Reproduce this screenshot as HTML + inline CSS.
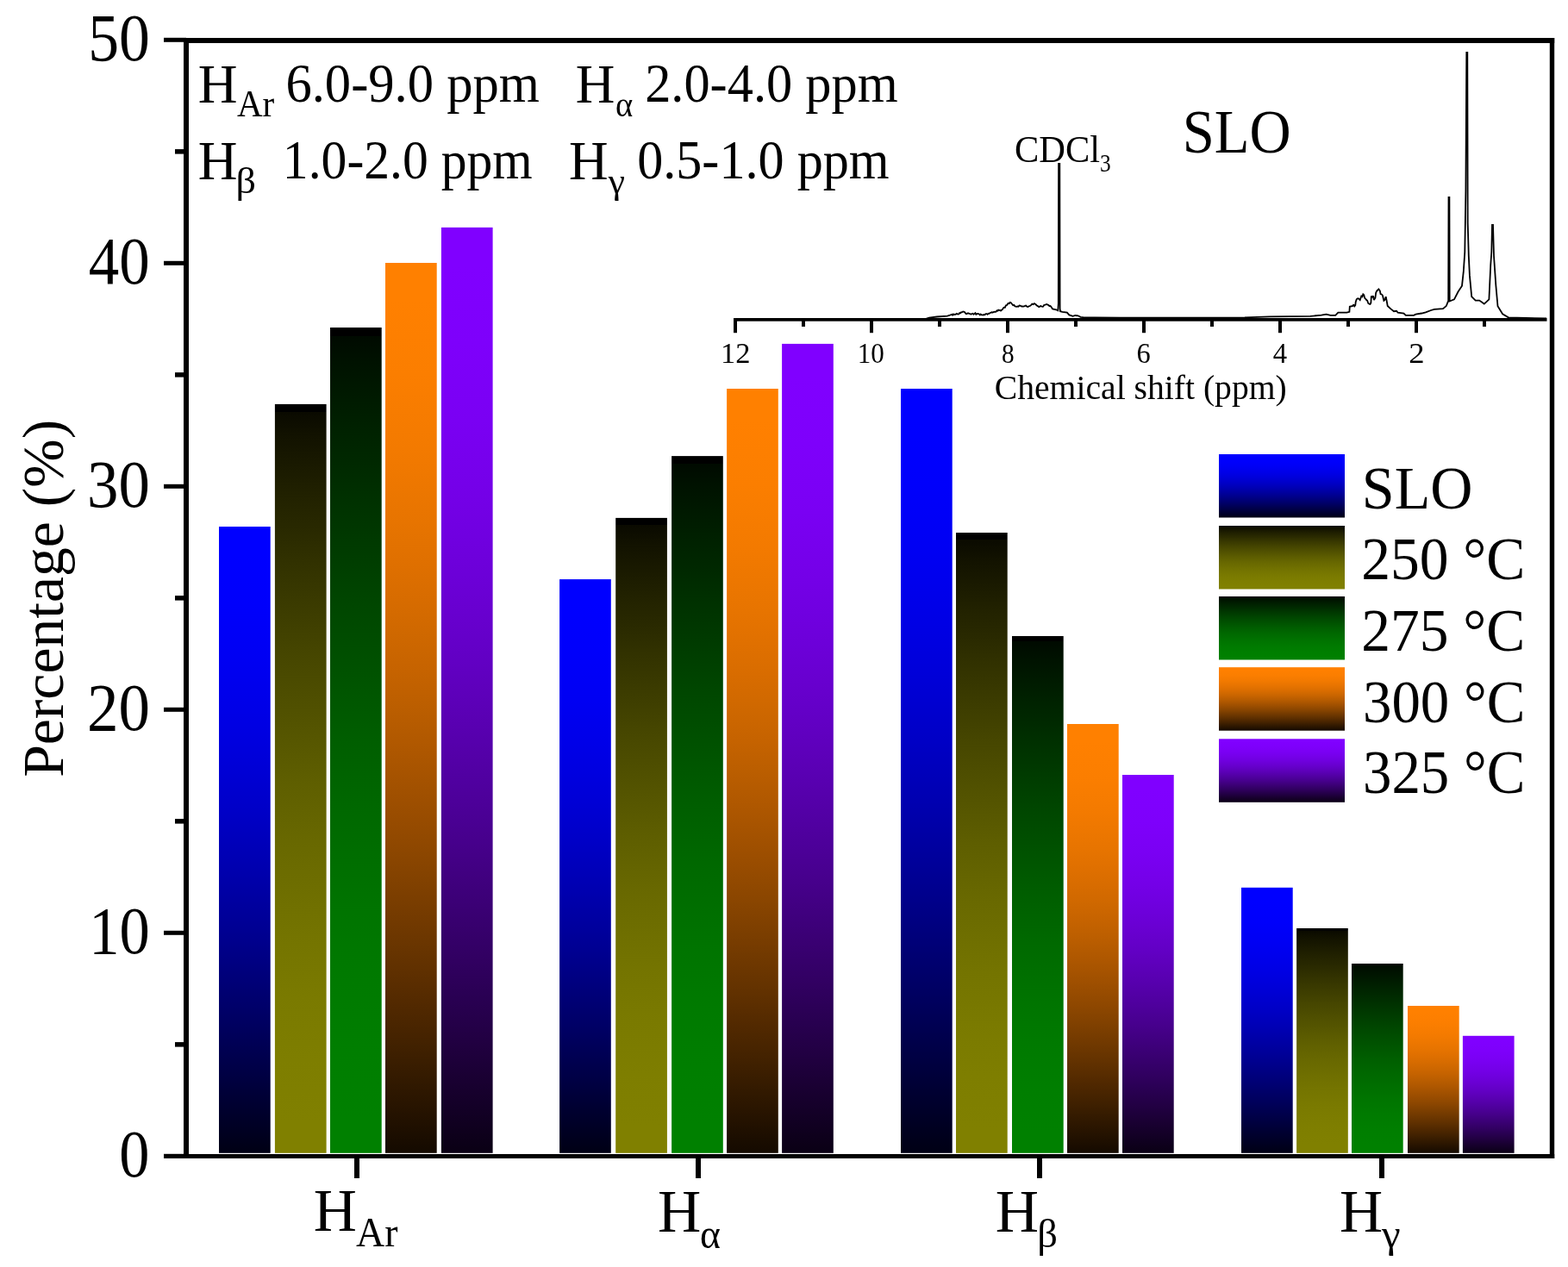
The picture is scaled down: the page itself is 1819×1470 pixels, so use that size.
<!DOCTYPE html><html><head><meta charset="utf-8"><style>html,body{margin:0;padding:0;background:#fff;}svg{display:block;}text{font-family:"Liberation Serif","Times New Roman",serif;fill:#000;}</style></head><body>
<svg width="1819" height="1470" viewBox="0 0 1819 1470">
<defs>
<linearGradient id="gS" x1="0" y1="0" x2="0" y2="1"><stop offset="0.0000" stop-color="#0000ff"/><stop offset="0.0417" stop-color="#0000ff"/><stop offset="0.0833" stop-color="#0000fd"/><stop offset="0.1250" stop-color="#0000fb"/><stop offset="0.1667" stop-color="#0000f7"/><stop offset="0.2083" stop-color="#0000f3"/><stop offset="0.2500" stop-color="#0000ed"/><stop offset="0.2917" stop-color="#0000e7"/><stop offset="0.3333" stop-color="#0000e0"/><stop offset="0.3750" stop-color="#0000d8"/><stop offset="0.4167" stop-color="#0000cf"/><stop offset="0.4583" stop-color="#0000c6"/><stop offset="0.5000" stop-color="#0000bb"/><stop offset="0.5417" stop-color="#0000b0"/><stop offset="0.5833" stop-color="#0000a4"/><stop offset="0.6250" stop-color="#000098"/><stop offset="0.6667" stop-color="#00008b"/><stop offset="0.7083" stop-color="#00007d"/><stop offset="0.7500" stop-color="#00006f"/><stop offset="0.7917" stop-color="#000061"/><stop offset="0.8333" stop-color="#000052"/><stop offset="0.8750" stop-color="#000043"/><stop offset="0.9167" stop-color="#000033"/><stop offset="0.9583" stop-color="#000024"/><stop offset="1.0000" stop-color="#000014"/></linearGradient>
<linearGradient id="g250" x1="0" y1="0" x2="0" y2="1"><stop offset="0" stop-color="#000000"/><stop offset="0.0105" stop-color="#000000"/><stop offset="0.0105" stop-color="#0a0a00"/><stop offset="0.0417" stop-color="#121200"/><stop offset="0.0833" stop-color="#1a1a00"/><stop offset="0.1250" stop-color="#222200"/><stop offset="0.1667" stop-color="#292900"/><stop offset="0.2083" stop-color="#313100"/><stop offset="0.2500" stop-color="#383800"/><stop offset="0.2917" stop-color="#3f3f00"/><stop offset="0.3333" stop-color="#464600"/><stop offset="0.3750" stop-color="#4c4c00"/><stop offset="0.4167" stop-color="#525200"/><stop offset="0.4583" stop-color="#585800"/><stop offset="0.5000" stop-color="#5e5e00"/><stop offset="0.5417" stop-color="#636300"/><stop offset="0.5833" stop-color="#686800"/><stop offset="0.6250" stop-color="#6c6c00"/><stop offset="0.6667" stop-color="#707000"/><stop offset="0.7083" stop-color="#747400"/><stop offset="0.7500" stop-color="#777700"/><stop offset="0.7917" stop-color="#7a7a00"/><stop offset="0.8333" stop-color="#7c7c00"/><stop offset="0.8750" stop-color="#7e7e00"/><stop offset="0.9167" stop-color="#7f7f00"/><stop offset="0.9583" stop-color="#808000"/><stop offset="1.0000" stop-color="#808000"/></linearGradient>
<linearGradient id="g275" x1="0" y1="0" x2="0" y2="1"><stop offset="0" stop-color="#000000"/><stop offset="0.0105" stop-color="#000000"/><stop offset="0.0105" stop-color="#000a00"/><stop offset="0.0417" stop-color="#001200"/><stop offset="0.0833" stop-color="#001a00"/><stop offset="0.1250" stop-color="#002200"/><stop offset="0.1667" stop-color="#002900"/><stop offset="0.2083" stop-color="#003100"/><stop offset="0.2500" stop-color="#003800"/><stop offset="0.2917" stop-color="#003f00"/><stop offset="0.3333" stop-color="#004600"/><stop offset="0.3750" stop-color="#004c00"/><stop offset="0.4167" stop-color="#005200"/><stop offset="0.4583" stop-color="#005800"/><stop offset="0.5000" stop-color="#005e00"/><stop offset="0.5417" stop-color="#006300"/><stop offset="0.5833" stop-color="#006800"/><stop offset="0.6250" stop-color="#006c00"/><stop offset="0.6667" stop-color="#007000"/><stop offset="0.7083" stop-color="#007400"/><stop offset="0.7500" stop-color="#007700"/><stop offset="0.7917" stop-color="#007a00"/><stop offset="0.8333" stop-color="#007c00"/><stop offset="0.8750" stop-color="#007e00"/><stop offset="0.9167" stop-color="#007f00"/><stop offset="0.9583" stop-color="#008000"/><stop offset="1.0000" stop-color="#008000"/></linearGradient>
<linearGradient id="g300" x1="0" y1="0" x2="0" y2="1"><stop offset="0.0000" stop-color="#ff8000"/><stop offset="0.0417" stop-color="#ff8000"/><stop offset="0.0833" stop-color="#fd7f00"/><stop offset="0.1250" stop-color="#fb7e00"/><stop offset="0.1667" stop-color="#f77c00"/><stop offset="0.2083" stop-color="#f37a00"/><stop offset="0.2500" stop-color="#ed7700"/><stop offset="0.2917" stop-color="#e77400"/><stop offset="0.3333" stop-color="#e07000"/><stop offset="0.3750" stop-color="#d86c00"/><stop offset="0.4167" stop-color="#cf6800"/><stop offset="0.4583" stop-color="#c66300"/><stop offset="0.5000" stop-color="#bb5e00"/><stop offset="0.5417" stop-color="#b05800"/><stop offset="0.5833" stop-color="#a45200"/><stop offset="0.6250" stop-color="#984c00"/><stop offset="0.6667" stop-color="#8b4600"/><stop offset="0.7083" stop-color="#7d3f00"/><stop offset="0.7500" stop-color="#6f3800"/><stop offset="0.7917" stop-color="#613100"/><stop offset="0.8333" stop-color="#522900"/><stop offset="0.8750" stop-color="#432200"/><stop offset="0.9167" stop-color="#331a00"/><stop offset="0.9583" stop-color="#241200"/><stop offset="1.0000" stop-color="#140a00"/></linearGradient>
<linearGradient id="g325" x1="0" y1="0" x2="0" y2="1"><stop offset="0.0000" stop-color="#8000ff"/><stop offset="0.0417" stop-color="#8000ff"/><stop offset="0.0833" stop-color="#7f00fd"/><stop offset="0.1250" stop-color="#7e00fb"/><stop offset="0.1667" stop-color="#7c00f7"/><stop offset="0.2083" stop-color="#7a00f3"/><stop offset="0.2500" stop-color="#7700ed"/><stop offset="0.2917" stop-color="#7400e7"/><stop offset="0.3333" stop-color="#7000e0"/><stop offset="0.3750" stop-color="#6c00d8"/><stop offset="0.4167" stop-color="#6800cf"/><stop offset="0.4583" stop-color="#6300c6"/><stop offset="0.5000" stop-color="#5e00bb"/><stop offset="0.5417" stop-color="#5800b0"/><stop offset="0.5833" stop-color="#5200a4"/><stop offset="0.6250" stop-color="#4c0098"/><stop offset="0.6667" stop-color="#46008b"/><stop offset="0.7083" stop-color="#3f007d"/><stop offset="0.7500" stop-color="#38006f"/><stop offset="0.7917" stop-color="#310061"/><stop offset="0.8333" stop-color="#290052"/><stop offset="0.8750" stop-color="#220043"/><stop offset="0.9167" stop-color="#1a0033"/><stop offset="0.9583" stop-color="#120024"/><stop offset="1.0000" stop-color="#0a0014"/></linearGradient>
</defs>
<rect x="0" y="0" width="1819" height="1470" fill="#fff"/>
<rect x="254" y="611" width="59.7" height="726.8" fill="url(#gS)"/>
<rect x="318.9" y="468.9" width="59.7" height="868.9" fill="url(#g250)"/>
<rect x="383" y="380" width="59.7" height="957.8" fill="url(#g275)"/>
<rect x="447" y="305" width="59.7" height="1032.8" fill="url(#g300)"/>
<rect x="511.9" y="263.9" width="59.7" height="1073.9" fill="url(#g325)"/>
<rect x="649.1" y="672.1" width="59.7" height="665.7" fill="url(#gS)"/>
<rect x="714.2" y="600.9" width="59.7" height="736.9" fill="url(#g250)"/>
<rect x="779.1" y="529.1" width="59.7" height="808.7" fill="url(#g275)"/>
<rect x="843.1" y="451" width="59.7" height="886.8" fill="url(#g300)"/>
<rect x="907.1" y="398.9" width="59.7" height="938.9" fill="url(#g325)"/>
<rect x="1045" y="451" width="59.7" height="886.8" fill="url(#gS)"/>
<rect x="1109" y="618" width="59.7" height="719.8" fill="url(#g250)"/>
<rect x="1174" y="738" width="59.7" height="599.8" fill="url(#g275)"/>
<rect x="1238" y="840" width="59.7" height="497.8" fill="url(#g300)"/>
<rect x="1302" y="899" width="59.7" height="438.8" fill="url(#g325)"/>
<rect x="1440" y="1029.8" width="59.7" height="308.0" fill="url(#gS)"/>
<rect x="1504.1" y="1077" width="59.7" height="260.8" fill="url(#g250)"/>
<rect x="1568" y="1118" width="59.7" height="219.8" fill="url(#g275)"/>
<rect x="1633" y="1167" width="59.7" height="170.8" fill="url(#g300)"/>
<rect x="1696.9" y="1201.8" width="59.7" height="136.0" fill="url(#g325)"/>
<rect x="213" y="44" width="6" height="1300" fill="#000"/>
<rect x="1797.8" y="44" width="5.4" height="1300" fill="#000"/>
<rect x="213" y="44" width="1590.2" height="6" fill="#000"/>
<rect x="190" y="1339" width="1613.2" height="5" fill="#000"/>
<rect x="190" y="1338.8" width="26" height="5" fill="#000"/>
<rect x="190" y="1079.8" width="26" height="5" fill="#000"/>
<rect x="190" y="820.8" width="26" height="5" fill="#000"/>
<rect x="190" y="561.8" width="26" height="5" fill="#000"/>
<rect x="190" y="302.8" width="26" height="5" fill="#000"/>
<rect x="190" y="43.8" width="26" height="5" fill="#000"/>
<rect x="203" y="1209.1" width="13" height="5.5" fill="#000"/>
<rect x="203" y="950.1" width="13" height="5.5" fill="#000"/>
<rect x="203" y="691.1" width="13" height="5.5" fill="#000"/>
<rect x="203" y="432.1" width="13" height="5.5" fill="#000"/>
<rect x="203" y="173.1" width="13" height="5.5" fill="#000"/>
<rect x="411" y="1341" width="6" height="26" fill="#000"/>
<rect x="807" y="1341" width="6" height="26" fill="#000"/>
<rect x="1203" y="1341" width="6" height="26" fill="#000"/>
<rect x="1600" y="1341" width="6" height="26" fill="#000"/>
<text transform="matrix(0.9559 0 0 1.0429 102.18 70.00)" font-size="75">50</text>
<text transform="matrix(0.9465 0 0 1.0347 102.85 328.60)" font-size="75">40</text>
<text transform="matrix(0.9721 0 0 1.0469 101.01 588.00)" font-size="75">30</text>
<text transform="matrix(0.9725 0 0 1.0449 100.98 847.00)" font-size="75">20</text>
<text transform="matrix(0.9415 0 0 1.0408 103.21 1105.80)" font-size="75">10</text>
<text transform="matrix(0.9375 0 0 1.0388 138.19 1364.90)" font-size="75">0</text>
<text transform="translate(73.05,901.79) rotate(-90) scale(0.9949,1.0033)" font-size="68">Percentage (%)</text>
<text transform="matrix(1.0222 0 0 1.0136 363.86 1427.60)" font-size="68">H</text>
<text transform="matrix(0.9373 0 0 1.0063 413.10 1446.00)" font-size="49">Ar</text>
<text transform="matrix(1.0244 0 0 1.0136 762.95 1428.90)" font-size="68">H</text>
<text transform="matrix(0.9304 0 0 0.9955 811.94 1448.10)" font-size="49">α</text>
<text transform="matrix(1.0244 0 0 1.0136 1154.85 1428.90)" font-size="68">H</text>
<text transform="matrix(0.9500 0 0 0.9523 1203.35 1447.18)" font-size="49">β</text>
<text transform="matrix(1.0222 0 0 1.0136 1553.96 1428.90)" font-size="68">H</text>
<text transform="matrix(1.0000 0 0 0.9281 1602.90 1447.42)" font-size="49">γ</text>
<text transform="matrix(1.0293 0 0 1.0300 229.84 119.10)" font-size="61.5">H</text>
<text transform="matrix(1.0023 0 0 1.0808 274.90 135.00)" font-size="41">Ar</text>
<text transform="matrix(0.9847 0 0 1.0358 331.45 118.23)" font-size="61.5">6.0-9.0 ppm</text>
<text transform="matrix(1.0268 0 0 1.0200 667.85 118.80)" font-size="61.5">H</text>
<text transform="matrix(0.9421 0 0 1.0000 714.12 134.90)" font-size="41">α</text>
<text transform="matrix(0.9820 0 0 1.0358 748.15 118.23)" font-size="61.5">2.0-4.0 ppm</text>
<text transform="matrix(1.0293 0 0 1.0250 229.84 207.90)" font-size="61.5">H</text>
<text transform="matrix(1.1250 0 0 1.0243 273.62 223.58)" font-size="41">β</text>
<text transform="matrix(0.9696 0 0 1.0377 327.85 207.11)" font-size="61.5">1.0-2.0 ppm</text>
<text transform="matrix(1.0268 0 0 1.0225 659.95 207.90)" font-size="61.5">H</text>
<text transform="matrix(1.0647 0 0 1.0071 705.80 224.04)" font-size="41">γ</text>
<text transform="matrix(0.9787 0 0 1.0283 739.14 207.23)" font-size="61.5">0.5-1.0 ppm</text>
<text transform="matrix(1.0036 0 0 1.0027 1153.79 462.98)" font-size="39.5">Chemical shift (ppm)</text>
<text transform="matrix(1.0102 0 0 1.0930 1371.76 177.00)" font-size="66">SLO</text>
<text transform="matrix(0.9231 0 0 0.9719 1177.05 187.90)" font-size="46">CDCl</text>
<text transform="matrix(0.8462 0 0 1.0000 1276.05 199.00)" font-size="30">3</text>
<text transform="matrix(1.0778 0 0 1.0571 835.97 421.30)" font-size="32">12</text>
<text transform="matrix(0.9714 0 0 1.0571 994.79 421.30)" font-size="32">10</text>
<text transform="matrix(0.9143 0 0 0.9905 1161.89 420.70)" font-size="32">8</text>
<text transform="matrix(1.0143 0 0 1.0667 1318.39 421.30)" font-size="32">6</text>
<text transform="matrix(1.0214 0 0 1.0333 1476.68 421.00)" font-size="32">4</text>
<text transform="matrix(1.1462 0 0 1.0333 1634.25 420.70)" font-size="32">2</text>
<text transform="matrix(0.9861 0 0 1.0239 1579.87 590.00)" font-size="69">SLO</text>
<text transform="matrix(0.9786 0 0 1.0239 1579.16 672.00)" font-size="69">250 °C</text>
<text transform="matrix(0.9781 0 0 1.0217 1579.27 755.00)" font-size="69">275 °C</text>
<text transform="matrix(0.9690 0 0 1.0196 1580.99 837.80)" font-size="69">300 °C</text>
<text transform="matrix(0.9690 0 0 1.0283 1580.99 920.20)" font-size="69">325 °C</text>
<rect x="851" y="369" width="943.5" height="3.7" fill="#000"/>
<rect x="851.0" y="370" width="4" height="16.2" fill="#000"/>
<rect x="930.0" y="370" width="4" height="9" fill="#000"/>
<rect x="1009.0" y="370" width="4" height="16.2" fill="#000"/>
<rect x="1088.0" y="370" width="4" height="9" fill="#000"/>
<rect x="1167.0" y="370" width="4" height="16.2" fill="#000"/>
<rect x="1246.0" y="370" width="4" height="9" fill="#000"/>
<rect x="1325.0" y="370" width="4" height="16.2" fill="#000"/>
<rect x="1404.0" y="370" width="4" height="9" fill="#000"/>
<rect x="1483.0" y="370" width="4" height="16.2" fill="#000"/>
<rect x="1562.0" y="370" width="4" height="9" fill="#000"/>
<rect x="1641.0" y="370" width="4" height="16.2" fill="#000"/>
<rect x="1720.0" y="370" width="4" height="9" fill="#000"/>
<path d="M851.0,370.8 L1072.0,370.6 L1077.9,368.6 L1086.9,367.5 L1099.0,366.6 L1102.0,365.7 L1103.0,365.3 L1103.9,364.8 L1104.9,365.6 L1105.8,364.4 L1106.8,365.1 L1107.7,364.7 L1108.7,364.8 L1109.9,363.9 L1111.1,364.6 L1112.3,364.5 L1113.2,363.1 L1114.2,363.3 L1115.1,362.2 L1116.0,362.4 L1117.2,361.4 L1118.4,361.8 L1119.4,362.5 L1120.4,364.0 L1121.4,364.2 L1122.4,363.4 L1123.4,363.5 L1124.4,363.9 L1125.4,364.1 L1126.4,364.7 L1127.5,364.0 L1128.5,363.7 L1129.5,364.8 L1130.5,363.9 L1131.4,363.2 L1132.3,364.8 L1133.2,364.0 L1134.1,363.9 L1135.0,364.0 L1135.9,364.5 L1136.8,365.5 L1137.7,364.5 L1138.6,365.4 L1139.5,365.4 L1140.5,365.6 L1141.5,365.0 L1142.5,365.2 L1143.6,364.2 L1144.6,364.1 L1145.6,364.8 L1146.6,363.7 L1147.6,363.9 L1148.6,363.0 L1149.6,362.7 L1150.6,362.3 L1151.6,362.6 L1152.6,362.1 L1153.6,361.6 L1154.6,361.8 L1155.5,361.6 L1156.5,360.3 L1157.4,360.6 L1158.3,359.6 L1159.2,360.1 L1160.1,359.9 L1161.0,360.5 L1161.9,359.7 L1162.9,359.1 L1163.9,357.3 L1164.9,356.6 L1165.9,356.7 L1166.9,354.3 L1167.9,354.2 L1168.8,352.9 L1169.8,351.8 L1170.8,352.1 L1171.8,350.8 L1172.8,351.2 L1174.0,352.7 L1175.2,354.2 L1176.3,353.9 L1177.5,355.5 L1178.6,355.7 L1179.6,355.9 L1180.6,355.4 L1181.5,355.7 L1182.5,354.4 L1183.5,354.5 L1184.7,355.3 L1185.9,355.5 L1187.1,355.7 L1188.1,355.4 L1189.1,354.8 L1190.1,354.5 L1191.1,355.5 L1192.1,356.1 L1193.1,355.7 L1194.1,355.1 L1195.2,354.8 L1196.2,353.9 L1197.4,352.5 L1198.6,353.1 L1199.8,352.1 L1201.6,353.3 L1202.8,354.5 L1204.0,355.1 L1205.0,356.1 L1206.0,355.9 L1207.0,355.0 L1208.1,355.3 L1209.1,355.9 L1210.1,355.7 L1211.3,353.8 L1212.5,353.6 L1214.3,353.0 L1215.3,353.6 L1216.3,353.8 L1217.3,355.1 L1218.5,355.0 L1219.7,356.3 L1221.0,358.4 L1225.2,359.3 L1227.3,360.4 L1227.8,352.0 L1228.1,190.0 L1229.3,190.0 L1229.6,358.0 L1230.0,361.2 L1232.4,361.8 L1237.9,362.7 L1240.3,365.4 L1244.5,366.9 L1247.5,366.0 L1250.6,366.3 L1253.6,367.8 L1256.6,368.1 L1268.7,368.4 L1300.0,368.6 L1444.0,368.3 L1473.0,367.4 L1520.0,366.9 L1532.9,365.7 L1538.6,364.7 L1543.5,365.8 L1549.2,365.8 L1552.3,362.7 L1562.3,362.7 L1565.4,361.9 L1565.8,355.8 L1569.3,355.0 L1570.3,353.3 L1571.3,355.3 L1572.3,354.2 L1572.7,350.4 L1573.7,347.3 L1574.6,346.5 L1575.6,346.2 L1576.7,347.2 L1577.7,348.1 L1579.3,343.5 L1580.3,344.3 L1581.3,341.4 L1582.3,342.3 L1583.1,345.8 L1584.1,346.6 L1585.2,348.0 L1586.2,348.8 L1587.3,352.0 L1588.5,352.7 L1589.5,353.0 L1590.4,351.2 L1590.8,343.5 L1591.9,344.7 L1593.1,343.5 L1593.9,348.1 L1595.4,345.8 L1596.2,339.6 L1597.2,337.5 L1598.3,336.5 L1599.3,335.4 L1600.8,337.3 L1601.6,341.2 L1602.8,341.5 L1603.9,342.7 L1605.4,348.8 L1606.6,347.7 L1607.7,344.2 L1608.5,348.1 L1609.7,355.0 L1613.1,358.1 L1617.0,361.2 L1620.1,360.8 L1621.6,362.7 L1628.5,363.5 L1630.8,365.8 L1640.1,365.8 L1642.4,364.6 L1649.3,363.5 L1653.9,362.3 L1660.1,360.0 L1663.9,358.8 L1674.0,358.1 L1677.8,355.0 L1679.3,351.2 L1680.2,349.0 L1680.5,229.0 L1681.4,229.0 L1681.7,349.5 L1687.0,347.4 L1691.5,338.5 L1696.0,331.7 L1697.8,314.9 L1699.3,292.5 L1700.4,221.7 L1701.3,61.0 L1702.3,61.0 L1702.7,258.8 L1703.8,296.9 L1704.9,319.4 L1707.2,344.1 L1711.7,348.6 L1716.2,348.6 L1721.8,352.6 L1727.4,347.4 L1729.2,308.2 L1730.3,292.5 L1731.0,261.0 L1732.0,261.0 L1733.0,297.0 L1735.3,330.6 L1737.5,355.3 L1743.1,364.3 L1749.9,368.3 L1794.0,369.5" fill="none" stroke="#000" stroke-width="1.8" stroke-linejoin="miter" stroke-miterlimit="2"/>
<rect x="1414" y="527" width="146" height="73.5" fill="url(#gS)"/>
<rect x="1414" y="610" width="146" height="73.5" fill="url(#g250)"/>
<rect x="1414" y="692" width="146" height="73.5" fill="url(#g275)"/>
<rect x="1414" y="774.2" width="146" height="73.5" fill="url(#g300)"/>
<rect x="1414" y="857.3" width="146" height="73.5" fill="url(#g325)"/>
</svg></body></html>
